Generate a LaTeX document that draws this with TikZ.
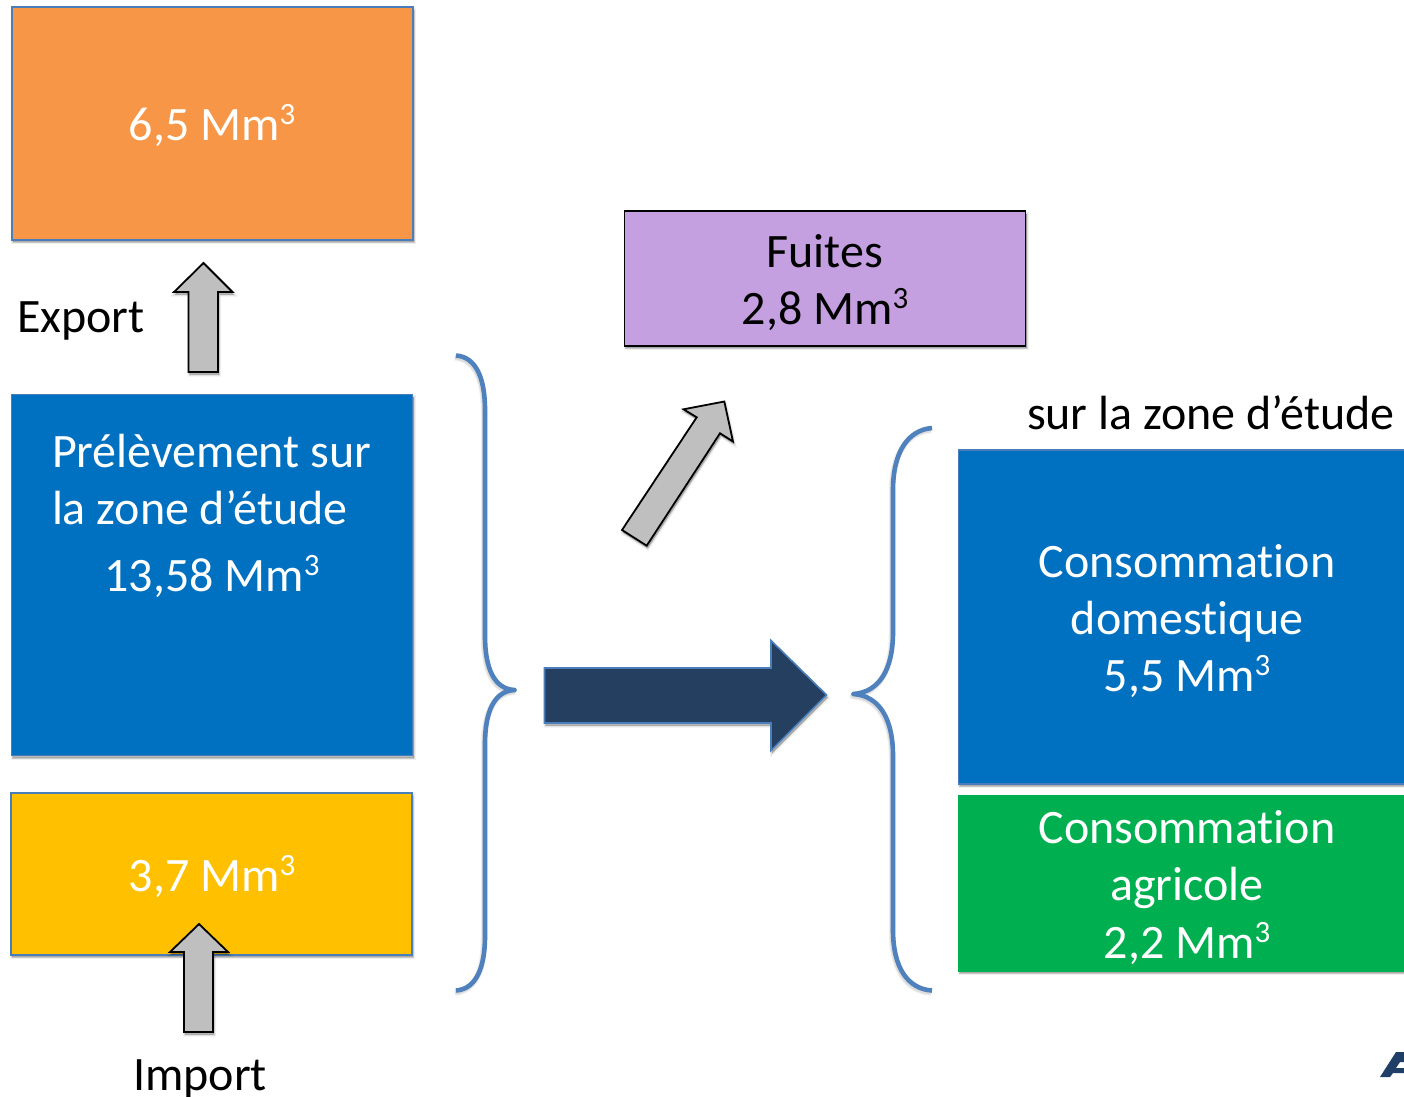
\documentclass[tikz,border=0pt]{standalone}
\usepackage{fontspec}
\setmainfont{Carlito}[Ligatures=NoCommon]
\definecolor{borderblue}{HTML}{4A7EBB}
\definecolor{braceblue}{HTML}{4F81BD}
\definecolor{orangebox}{HTML}{F79646}
\definecolor{bluebox}{HTML}{0070C0}
\definecolor{yellowbox}{HTML}{FFC000}
\definecolor{purplebox}{HTML}{C5A0E0}
\definecolor{greenbox}{HTML}{00B050}
\definecolor{navyarrow}{HTML}{243F60}
\definecolor{logonavy}{HTML}{1F3F66}
\definecolor{arrowgrey}{HTML}{BFBFBF}
\tikzset{
  softshadow/.style={
    preaction={draw=black,fill=black,opacity=.06,line width=4pt,transform canvas={shift={(1pt,-2.5pt)}}},
    preaction={draw=black,fill=black,opacity=.08,line width=2pt,transform canvas={shift={(1pt,-2.5pt)}}},
    preaction={draw=black,fill=black,opacity=.10,line width=.5pt,transform canvas={shift={(1pt,-2.5pt)}}}},
  lineshadow/.style={
    preaction={draw=black,opacity=.06,line width=6.5pt,line join=round,transform canvas={shift={(-1pt,-2pt)}}},
    preaction={draw=black,opacity=.08,line width=4.5pt,line join=round,transform canvas={shift={(-1pt,-2pt)}}}},
  box/.style={rectangle,inner sep=0pt,outer sep=0pt,draw=borderblue,line width=1.7pt,softshadow},
  flatbox/.style={rectangle,inner sep=0pt,outer sep=0pt},
  lbl/.style={inner sep=0pt,outer sep=0pt,font=\fontsize{48}{57}\selectfont,text=#1},
  lbl/.default=white,
  greyarrow/.style={draw=black,fill=arrowgrey,line width=1.8pt,line join=miter,miter limit=4,softshadow},
  brace/.style={draw=braceblue,line width=4.6pt,line cap=butt,line join=round,lineshadow},
}
\newcommand{\mcube}{Mm\raisebox{15.5pt}{\fontsize{31}{31}\selectfont 3}}
\begin{document}
\begin{tikzpicture}[x=1pt,y=-1pt]
\useasboundingbox (0,0) rectangle (1404,1096);
\clip (0,0) rectangle (1404,1096);
\fill[white] (0,0) rectangle (1404,1096);

% boxes
\node[box,fill=orangebox,minimum width=400.5pt,minimum height=232.5pt] (export) at (212.5,123.5) {};
\node[box,fill=bluebox,minimum width=401pt,minimum height=361pt] (prelev) at (212,575) {};
\node[box,fill=yellowbox,minimum width=400.5pt,minimum height=161.5pt] (import) at (211.5,874) {};
\node[flatbox,draw=black,line width=1.8pt,fill=purplebox,softshadow,minimum width=401pt,minimum height=134.5pt] (fuites) at (825,278.5) {};
\node[box,fill=bluebox,minimum width=460pt,minimum height=333.5pt] (dom) at (1188.5,617) {};
\node[box,fill=greenbox,draw=greenbox,minimum width=460pt,minimum height=174.5pt] (agri) at (1188.5,883.5) {};

% grey arrows
\draw[greyarrow] (203.5,263) -- (232.5,292) -- (218,292) -- (218,372) -- (188.5,372) -- (188.5,292) -- (174,292) -- cycle;
\draw[greyarrow] (199,924) -- (228,952) -- (213,952) -- (213,1032) -- (184,1032) -- (184,952) -- (170,952) -- cycle;
\draw[greyarrow] (724.3,401.5) -- (733,441.5) -- (720,433.3) -- (646.7,545.7) -- (622,530) -- (696.7,417.3) -- (683.5,409.3) -- cycle;

% big arrow
\draw[draw=borderblue,fill=navyarrow,line width=1.6pt,softshadow] (826.5,695) -- (771,750.5) -- (771,723) -- (544.5,723) -- (544.5,668) -- (771,668) -- (771,640.5) -- cycle;

% braces
\draw[brace] (456,355.5) .. controls (476,357) and (485,378) .. (485,410) -- (485,636)
  .. controls (485,668) and (494,689) .. (514.5,690)
  .. controls (494,691) and (485,712) .. (485,744) -- (485,936)
  .. controls (485,968) and (476,989) .. (456,990.5);
\draw[brace] (932,428) .. controls (908,430) and (893,452) .. (893,490) -- (893,632)
  .. controls (893,670) and (879,692) .. (853.5,694)
  .. controls (879,696) and (893,718) .. (893,756) -- (893,930)
  .. controls (893,968) and (908,989) .. (932,990.5);

% logo fragment
\fill[logonavy] (1380,1077) -- (1396,1052) -- (1404,1052) -- (1404,1062) -- (1400,1062) -- (1396,1068) -- (1404,1068) -- (1404,1073) -- (1393,1073) -- (1390,1077) -- cycle;

% labels
\node[lbl,anchor=base] (t1) at (212,140) {6,5 \mcube};
\node[lbl=black,anchor=base west] (t2) at (17,332) {Export};
\node[lbl,anchor=base west] (t3) at (52,467) {Prélèvement sur};
\node[lbl,anchor=base west] (t4) at (52,524) {la zone d’étude};
\node[lbl,anchor=base] (t5) at (212,591) {13,58 \mcube};
\node[lbl,anchor=base] (t6) at (212,891) {3,7 \mcube};
\node[lbl=black,anchor=base] (t7) at (200,1090) {Import};
\node[lbl=black,anchor=base] (t8) at (825,267) {Fuites};
\node[lbl=black,anchor=base] (t9) at (825,324) {2,8 \mcube};
\node[lbl=black,anchor=base west] (t10) at (1027,429.5) {sur la zone d’étude};
\node[lbl,anchor=base] (t11) at (1187,577) {Consommation};
\node[lbl,anchor=base] (t12) at (1187,634) {domestique};
\node[lbl,anchor=base] (t13) at (1187,691) {5,5 \mcube};
\node[lbl,anchor=base] (t14) at (1187,843) {Consommation};
\node[lbl,anchor=base] (t15) at (1187,900) {agricole};
\node[lbl,anchor=base] (t16) at (1187,958) {2,2 \mcube};
\end{tikzpicture}
\end{document}
